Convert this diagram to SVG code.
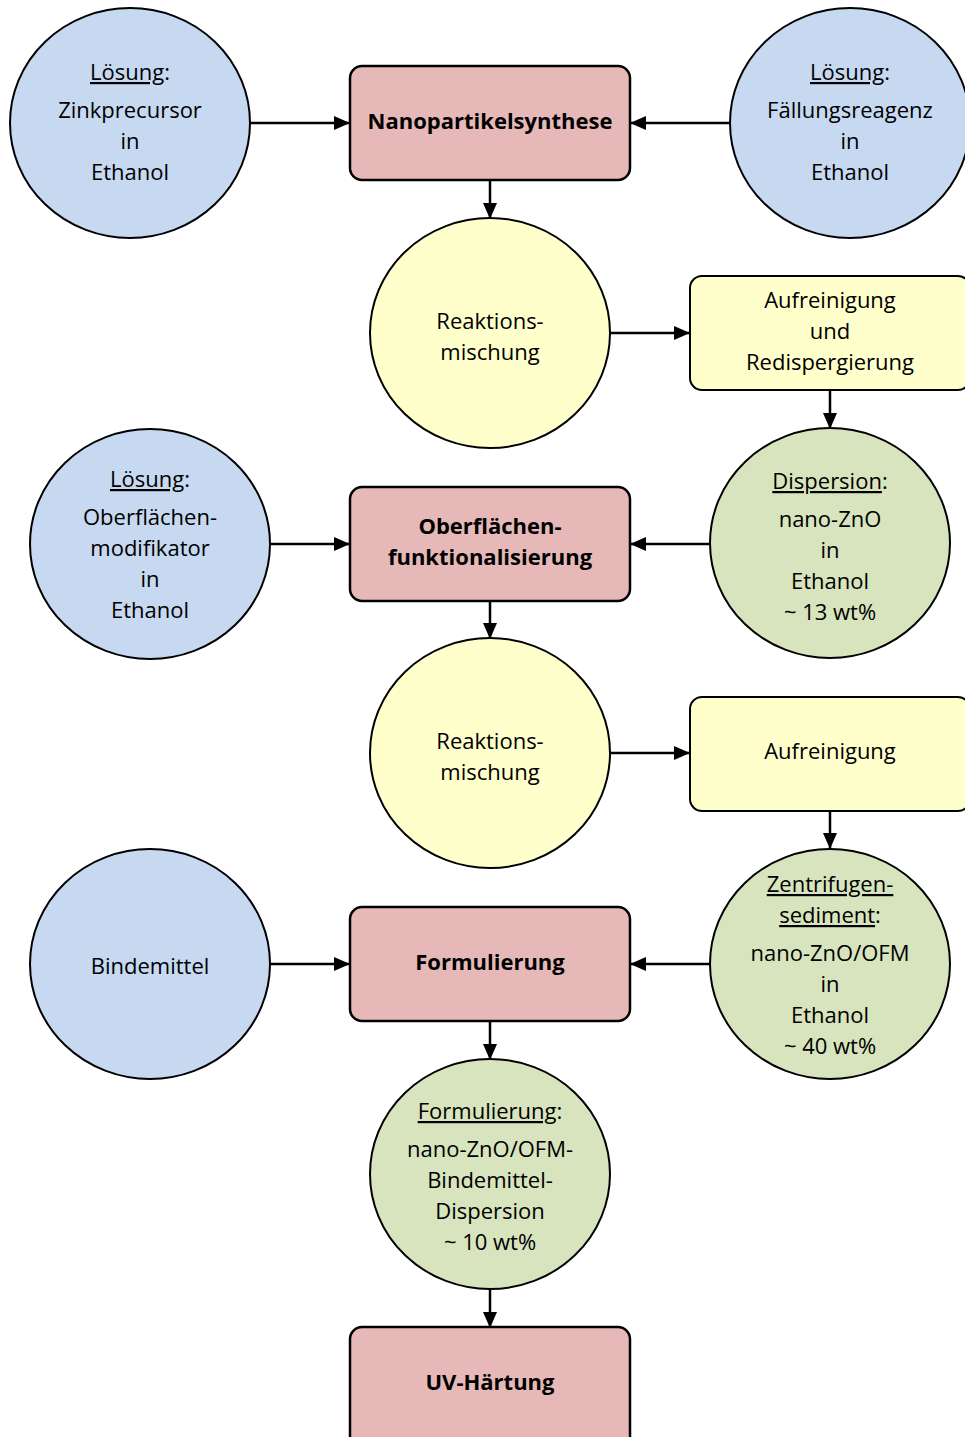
<svg xmlns="http://www.w3.org/2000/svg" width="965" height="1437" viewBox="0 0 965 1437">
<style>
.t{font-family:"Open Sans","Noto Sans",sans-serif;font-size:22px;fill:#000;text-anchor:middle}
.b{font-weight:bold;font-size:22px}
.u{text-decoration:underline}
.blue{fill:#c6d9f1;stroke:#000;stroke-width:2}
.pink{fill:#e6b9b8;stroke:#000;stroke-width:2.5}
.yel{fill:#ffffcc;stroke:#000;stroke-width:2}
.yelc{fill:#ffffcc;stroke:#000;stroke-width:2}
.grn{fill:#d7e4bd;stroke:#000;stroke-width:2}
.c{stroke:#000;stroke-width:2.5;fill:none;marker-end:url(#ah)}
</style>
<defs>
<marker id="ah" markerUnits="userSpaceOnUse" markerWidth="16" markerHeight="14" refX="15" refY="7" orient="auto">
<path d="M0,0 L16,7 L0,14 Z" fill="#000"/>
</marker>
</defs>
<rect width="965" height="1437" fill="#fff"/>
<g id="connectors">
<line class="c" x1="250" y1="123" x2="349" y2="123"/>
<line class="c" x1="730" y1="123" x2="631" y2="123"/>
<line class="c" x1="490" y1="180" x2="490" y2="218"/>
<line class="c" x1="610" y1="333" x2="689" y2="333"/>
<line class="c" x1="830" y1="390" x2="830" y2="428"/>
<line class="c" x1="270" y1="544" x2="349" y2="544"/>
<line class="c" x1="710" y1="544" x2="631" y2="544"/>
<line class="c" x1="490" y1="601" x2="490" y2="638"/>
<line class="c" x1="610" y1="753" x2="689" y2="753"/>
<line class="c" x1="830" y1="811" x2="830" y2="848"/>
<line class="c" x1="270" y1="964" x2="349" y2="964"/>
<line class="c" x1="710" y1="964" x2="631" y2="964"/>
<line class="c" x1="490" y1="1021" x2="490" y2="1059"/>
<line class="c" x1="490" y1="1289" x2="490" y2="1327"/>
</g>
<g id="loesung-zink">
<ellipse class="blue" cx="130" cy="123" rx="120" ry="115"/>
<text class="t" x="130" y="80"><tspan class="u">Lösung</tspan>:</text>
<text class="t" x="130" y="118">Zinkprecursor</text>
<text class="t" x="130" y="149">in</text>
<text class="t" x="130" y="180">Ethanol</text>
</g>
<g id="nanopartikelsynthese">
<rect class="pink" x="350" y="66" width="280" height="114" rx="12"/>
<text class="t b" x="490" y="129">Nanopartikelsynthese</text>
</g>
<g id="loesung-faellung">
<ellipse class="blue" cx="850" cy="123" rx="120" ry="115"/>
<text class="t" x="850" y="80"><tspan class="u">Lösung</tspan>:</text>
<text class="t" x="850" y="118">Fällungsreagenz</text>
<text class="t" x="850" y="149">in</text>
<text class="t" x="850" y="180">Ethanol</text>
</g>
<g id="reaktionsmischung1">
<ellipse class="yelc" cx="490" cy="333" rx="120" ry="115"/>
<text class="t" x="490" y="329">Reaktions-</text>
<text class="t" x="490" y="360">mischung</text>
</g>
<g id="aufreinigung1">
<rect class="yel" x="690" y="276" width="280" height="114" rx="12"/>
<text class="t" x="830" y="308">Aufreinigung</text>
<text class="t" x="830" y="339">und</text>
<text class="t" x="830" y="370">Redispergierung</text>
</g>
<g id="dispersion">
<ellipse class="grn" cx="830" cy="543" rx="120" ry="115"/>
<text class="t" x="830" y="489"><tspan class="u">Dispersion</tspan>:</text>
<text class="t" x="830" y="527">nano-ZnO</text>
<text class="t" x="830" y="558">in</text>
<text class="t" x="830" y="589">Ethanol</text>
<text class="t" x="830" y="620">~ 13 wt%</text>
</g>
<g id="loesung-ofm">
<ellipse class="blue" cx="150" cy="544" rx="120" ry="115"/>
<text class="t" x="150" y="487"><tspan class="u">Lösung</tspan>:</text>
<text class="t" x="150" y="525">Oberflächen-</text>
<text class="t" x="150" y="556">modifikator</text>
<text class="t" x="150" y="587">in</text>
<text class="t" x="150" y="618">Ethanol</text>
</g>
<g id="oberflaechenfunktionalisierung">
<rect class="pink" x="350" y="487" width="280" height="114" rx="12"/>
<text class="t b" x="490" y="534">Oberflächen-</text>
<text class="t b" x="490" y="565">funktionalisierung</text>
</g>
<g id="reaktionsmischung2">
<ellipse class="yelc" cx="490" cy="753" rx="120" ry="115"/>
<text class="t" x="490" y="749">Reaktions-</text>
<text class="t" x="490" y="780">mischung</text>
</g>
<g id="aufreinigung2">
<rect class="yel" x="690" y="697" width="280" height="114" rx="12"/>
<text class="t" x="830" y="759">Aufreinigung</text>
</g>
<g id="zentrifugensediment">
<ellipse class="grn" cx="830" cy="964" rx="120" ry="115"/>
<text class="t" x="830" y="892"><tspan class="u">Zentrifugen-</tspan></text>
<text class="t" x="830" y="923"><tspan class="u">sediment</tspan>:</text>
<text class="t" x="830" y="961">nano-ZnO/OFM</text>
<text class="t" x="830" y="992">in</text>
<text class="t" x="830" y="1023">Ethanol</text>
<text class="t" x="830" y="1054">~ 40 wt%</text>
</g>
<g id="bindemittel">
<ellipse class="blue" cx="150" cy="964" rx="120" ry="115"/>
<text class="t" x="150" y="974">Bindemittel</text>
</g>
<g id="formulierung-box">
<rect class="pink" x="350" y="907" width="280" height="114" rx="12"/>
<text class="t b" x="490" y="970">Formulierung</text>
</g>
<g id="formulierung-dispersion">
<ellipse class="grn" cx="490" cy="1174" rx="120" ry="115"/>
<text class="t" x="490" y="1119"><tspan class="u">Formulierung</tspan>:</text>
<text class="t" x="490" y="1157">nano-ZnO/OFM-</text>
<text class="t" x="490" y="1188">Bindemittel-</text>
<text class="t" x="490" y="1219">Dispersion</text>
<text class="t" x="490" y="1250">~ 10 wt%</text>
</g>
<g id="uv-haertung">
<rect class="pink" x="350" y="1327" width="280" height="124" rx="12"/>
<text class="t b" x="490" y="1390">UV-Härtung</text>
</g>
</svg>
